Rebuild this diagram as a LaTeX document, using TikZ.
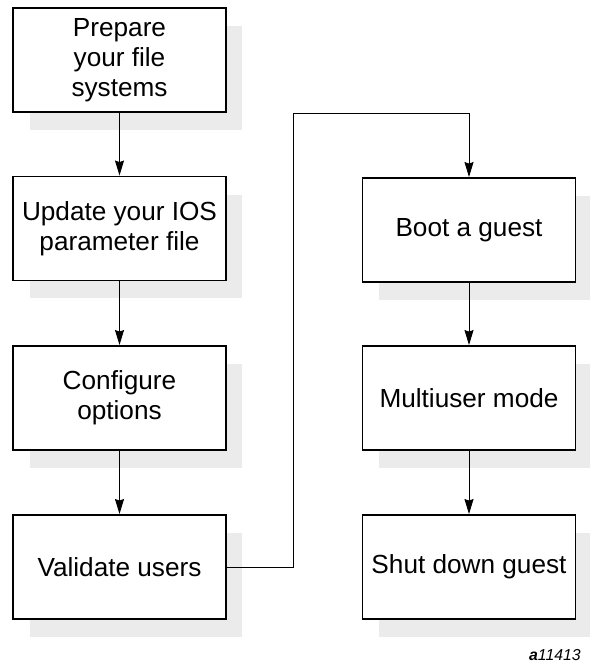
\documentclass[tikz,border=0pt]{standalone}
\usepackage{fontspec}
\setmainfont{Liberation Sans}
\usetikzlibrary{arrows.meta, shadows}
\definecolor{shadowgrey}{HTML}{EBEBEB}

\begin{document}
\begin{tikzpicture}[x=0.02cm, y=-0.02cm, font=\fontsize{14.9}{17}\selectfont]
	\def\leftcol{119.5}
	\def\rightcol{469}
		\tikzset	{
		stepbox/.style={
			draw, line width=1.1pt, fill=white, align=center, inner sep=0pt,
			minimum width=4.26cm, minimum height=2.08cm,
			general shadow={fill=shadowgrey, shadow xshift=0.33cm, shadow yshift=-0.36cm}
		},
		flow/.style={-{Stealth[length=0.3cm, width=0.18cm, inset=0.03cm]}, line width=0.55pt},
	}
	\useasboundingbox (0,0) rectangle (590,667);

	\node[stepbox] (prepare) at (\leftcol,60) {Prepare\\your file\\systems};
	\node[stepbox] (update) at (\leftcol,228.5) {Update your IOS\\parameter file};
	\node[stepbox] (config) at (\leftcol,398) {Configure\\options};
	\node[stepbox] (validate) at (\leftcol,567) {Validate users};

	\node[stepbox] (boot) at (\rightcol,230) {Boot a guest};
	\node[stepbox] (multi) at (\rightcol,398) {Multiuser mode};
	\node[stepbox] (shut) at (\rightcol,567) {Shut down guest};

	\draw[flow]	(prepare) -- (update);
	\draw[flow]	(update) -- (config);
	\draw[flow]	(config) -- (validate);

	\coordinate (bend) at (293,113);
	\draw[flow]	(validate.east) -| (bend) -| (boot.north);

	\draw[flow]	(boot) -- (multi);
	\draw[flow]	(multi) -- (shut);

	\node[anchor=base east, font=\fontsize{9}{10}\selectfont\itshape] (figid) at (587,660) {\textbf{a}11413};
\end{tikzpicture}
\end{document}
